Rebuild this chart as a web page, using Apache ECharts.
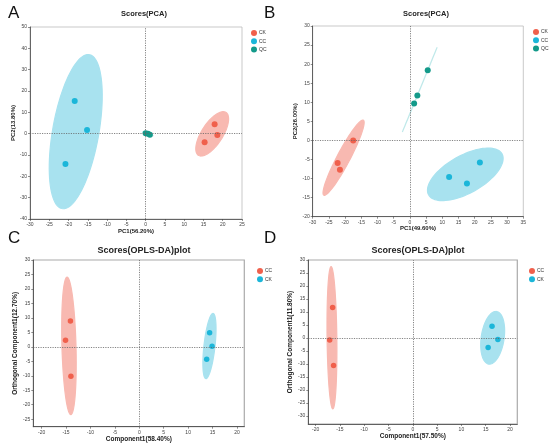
<!DOCTYPE html>
<html><head><meta charset="utf-8">
<script src="https://cdn.jsdelivr.net/npm/echarts@6/dist/echarts.min.js"></script>
<style>html,body{margin:0;padding:0;background:#fff}#c{width:550px;height:448px}</style>
</head><body><div id="c"></div>
<script>
// ---- data ----
const A_CK = [[17.9,4.4],[18.6,-0.6],[15.3,-4.05]];
const A_CC = [[-18.4,15.3],[-15.2,1.7],[-20.8,-14.2]];
const A_QC = [[0.0,0.2],[0.6,0.0],[1.1,-0.5]];
const B_CK = [[-17.5,0.0],[-22.3,-5.9],[-21.6,-7.7]];
const B_CC = [[21.6,-5.8],[12.1,-9.6],[17.6,-11.3]];
const B_QC = [[5.5,18.4],[2.3,11.8],[1.3,9.7]];
const C_CC = [[-14.1,8.9],[-15.1,2.3],[-14.0,-10.2]];
const C_CK = [[14.4,4.9],[14.9,0.2],[13.8,-4.3]];
const D_CC = [[-16.5,11.7],[-17.1,-0.8],[-16.3,-10.6]];
const D_CK = [[16.3,4.5],[17.5,-0.6],[15.5,-3.7]];

const A_xTicks = [-30,-25,-20,-15,-10,-5,0,5,10,15,20,25];
const A_yTicks = [-40,-30,-20,-10,0,10,20,30,40,50];
const B_xTicks = [-30,-25,-20,-15,-10,-5,0,5,10,15,20,25,30,35];
const B_yTicks = [-20,-15,-10,-5,0,5,10,15,20,25,30];
const C_xTicks = [-20,-15,-10,-5,0,5,10,15,20];
const C_yTicks = [-25,-20,-15,-10,-5,0,5,10,15,20,25,30];
const D_xTicks = [-20,-15,-10,-5,0,5,10,15,20];
const D_yTicks = [-30,-25,-20,-15,-10,-5,0,5,10,15,20,25,30];

const RED = '#f0604c', CYAN = '#1bb6d9', TEAL = '#139a8a';
const RED_F = '#f8b9b1', CYAN_F = '#a8e2ef', TEAL_F = '#c0e9ea';

// 95% confidence ellipse from sample covariance (chi-square, 2 df)
function ellipse(pts){
  const n = pts.length;
  const mx = pts.reduce((s,p)=>s+p[0],0)/n, my = pts.reduce((s,p)=>s+p[1],0)/n;
  let sxx=0, syy=0, sxy=0;
  pts.forEach(p=>{const dx=p[0]-mx, dy=p[1]-my; sxx+=dx*dx; syy+=dy*dy; sxy+=dx*dy;});
  sxx/=(n-1); syy/=(n-1); sxy/=(n-1);
  const tr=(sxx+syy)/2, det=Math.sqrt(((sxx-syy)/2)**2+sxy*sxy);
  const l1=tr+det, l2=Math.max(tr-det,1e-6);
  const ang = 0.5*Math.atan2(2*sxy, sxx-syy);
  const k = Math.sqrt(5.991);
  const a=k*Math.sqrt(l1), b=k*Math.sqrt(l2);
  const out=[];
  for(let i=0;i<96;i++){
    const t=i/96*2*Math.PI;
    const ex=a*Math.cos(t), ey=b*Math.sin(t);
    out.push([mx+ex*Math.cos(ang)-ey*Math.sin(ang), my+ex*Math.sin(ang)+ey*Math.cos(ang)]);
  }
  return {mx,my,out};
}

const grids = [
  {left:30, top:27, width:212, height:192},
  {left:312.7, top:26, width:210.6, height:190.7},
  {left:33.3, top:260, width:211, height:166.7},
  {left:308.3, top:260, width:209, height:164}
];
const ranges = [
  {x:[-30,25], y:[-40,50], xt:A_xTicks, yt:A_yTicks, xn:'PC1(56.20%)', yn:'PC2(13.80%)'},
  {x:[-30,35], y:[-20,30], xt:B_xTicks, yt:B_yTicks, xn:'PC1(49.60%)', yn:'PC2(26.00%)'},
  {x:[-21.7,21.5], y:[-27.6,30], xt:C_xTicks, yt:C_yTicks, xn:'Component1(58.40%)', yn:'Orthogonal Component1(12.70%)'},
  {x:[-21.5,21.5], y:[-33.1,30], xt:D_xTicks, yt:D_yTicks, xn:'Component1(57.50%)', yn:'Orthogonal Component1(11.80%)'}
];

const FONT = 'Liberation Sans, Arial, sans-serif';
const xAxis = [], yAxis = [];
ranges.forEach((r,i)=>{
  const big = i>=2;
  xAxis.push({type:'value', gridIndex:i, min:r.x[0], max:r.x[1],
    name:r.xn, nameLocation:'middle', nameGap: big?9:8,
    nameTextStyle:{fontSize: big?6.5:6, fontWeight:'bold', color:'#222', fontFamily:FONT},
    splitLine:{show:false},
    axisLine:{onZero:false, lineStyle:{color:'#444', width:0.8}},
    axisTick:{show:true, length:2, customValues:r.xt, lineStyle:{color:'#444', width:0.6}},
    axisLabel:{customValues:r.xt, fontSize:5, color:'#444', margin:3, fontFamily:FONT}
  });
  yAxis.push({type:'value', gridIndex:i, min:r.y[0], max:r.y[1],
    name:r.yn, nameLocation:'middle', nameGap: big?14:13,
    nameTextStyle:{fontSize: big?6.5:6, fontWeight:'bold', color:'#222', fontFamily:FONT},
    splitLine:{show:false},
    axisLine:{onZero:false, lineStyle:{color:'#444', width:0.8}},
    axisTick:{show:true, length:2, customValues:r.yt, lineStyle:{color:'#444', width:0.6}},
    axisLabel:{customValues:r.yt, fontSize:5, color:'#444', margin:3, fontFamily:FONT}
  });
});

const groups = [
  {p:0, name:'A_CK', d:A_CK, c:RED, f:RED_F},
  {p:0, name:'A_CC', d:A_CC, c:CYAN, f:CYAN_F},
  {p:0, name:'A_QC', d:A_QC, c:TEAL, f:TEAL_F},
  {p:1, name:'B_CK', d:B_CK, c:RED, f:RED_F},
  {p:1, name:'B_CC', d:B_CC, c:CYAN, f:CYAN_F},
  {p:1, name:'B_QC', d:B_QC, c:TEAL, f:TEAL_F},
  {p:2, name:'C_CC', d:C_CC, c:RED, f:RED_F},
  {p:2, name:'C_CK', d:C_CK, c:CYAN, f:CYAN_F},
  {p:3, name:'D_CC', d:D_CC, c:RED, f:RED_F},
  {p:3, name:'D_CK', d:D_CK, c:CYAN, f:CYAN_F}
];

const series = [];
groups.forEach(g=>{
  const e = ellipse(g.d);
  series.push({type:'custom', name:g.name+'_ell', xAxisIndex:g.p, yAxisIndex:g.p, silent:true, z:1,
    data:[[e.mx,e.my]],
    renderItem:(params, api)=>({type:'polygon', shape:{points:e.out.map(q=>api.coord(q))},
      style:{fill:g.f, stroke:g.f, lineWidth:1.2}})
  });
});
const firstOfPanel = {};
groups.forEach(g=>{
  const s = {type:'scatter', name:g.name, xAxisIndex:g.p, yAxisIndex:g.p, z:3,
    data:g.d, symbolSize: g.p>=2?5.5:6, itemStyle:{color:g.c, opacity:1}};
  if(!firstOfPanel[g.p]){
    firstOfPanel[g.p]=true;
    s.markLine = {silent:true, symbol:'none', label:{show:false}, animation:false,
      lineStyle:{type:[1.2,1.2], color:'#666', width:0.8},
      data:[{xAxis:0},{yAxis:0}]};
  }
  series.push(s);
});

const legendPos = [
  {left:246, top:25, data:['A_CK','A_CC','A_QC']},
  {left:528, top:24, data:['B_CK','B_CC','B_QC']},
  {left:252, top:263, data:['C_CC','C_CK']},
  {left:524, top:263, data:['D_CC','D_CK']}
];
const legend = legendPos.map(l=>({left:l.left, top:l.top, orient:'vertical', data:l.data,
  icon:'circle', itemWidth:6, itemHeight:6, itemGap:2.2,
  formatter:n=>n.split('_')[1],
  textStyle:{fontSize:5, color:'#333', fontFamily:FONT, padding:[0,0,0,-3]}}));

const title = [
  {text:'Scores(PCA)', left:139, top:5, textAlign:'center', textStyle:{fontSize:7.5, fontWeight:'bold', color:'#222', fontFamily:FONT}},
  {text:'Scores(PCA)', left:421, top:5, textAlign:'center', textStyle:{fontSize:7.5, fontWeight:'bold', color:'#222', fontFamily:FONT}},
  {text:'Scores(OPLS-DA)plot', left:139, top:241, textAlign:'center', textStyle:{fontSize:9, fontWeight:'bold', color:'#222', fontFamily:FONT}},
  {text:'Scores(OPLS-DA)plot', left:413, top:241, textAlign:'center', textStyle:{fontSize:9, fontWeight:'bold', color:'#222', fontFamily:FONT}},
  {text:'A', left:3, top:0, textStyle:{fontSize:17, fontWeight:'normal', color:'#111', fontFamily:FONT}},
  {text:'B', left:259, top:0, textStyle:{fontSize:17, fontWeight:'normal', color:'#111', fontFamily:FONT}},
  {text:'C', left:3, top:225, textStyle:{fontSize:17, fontWeight:'normal', color:'#111', fontFamily:FONT}},
  {text:'D', left:259, top:225, textStyle:{fontSize:17, fontWeight:'normal', color:'#111', fontFamily:FONT}}
];

const chart = echarts.init(document.getElementById('c'), null, {renderer:'canvas'});
chart.setOption({
  animation:false, backgroundColor:'#fff',
  title, legend,
  grid: grids.map((g,i)=>Object.assign({show:true, borderColor: i>=2?'#aaa':'#bbb', borderWidth: i>=2?1.2:0.8, backgroundColor:'transparent'}, g)),
  xAxis, yAxis, series
});
</script></body></html>
